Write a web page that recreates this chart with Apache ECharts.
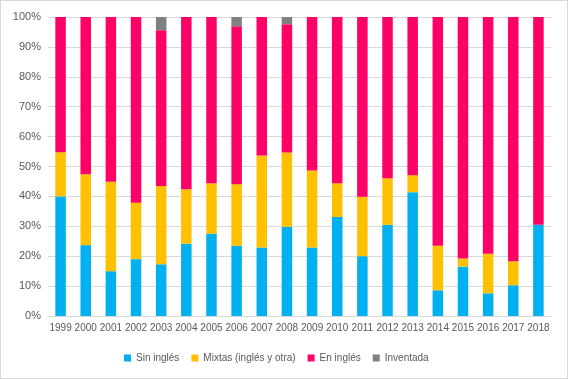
<!DOCTYPE html>
<html><head><meta charset="utf-8">
<script src="https://cdn.jsdelivr.net/npm/echarts@6/dist/echarts.min.js"></script>
<style>html,body{margin:0;padding:0;background:#fff}#c{width:568px;height:379px;box-sizing:border-box;border:1px solid #d9d9d9}</style>
</head><body><div id="c"></div>
<script>
const years = ['1999','2000','2001','2002','2003','2004','2005','2006','2007','2008','2009','2010','2011','2012','2013','2014','2015','2016','2017','2018'];
const sinIngles = [40,23.7,15,19,17.3,24.2,27.5,23.5,22.9,29.8,22.9,33.1,20,30.5,41.4,8.6,16.5,7.6,10.3,30.5];
const mixtas = [14.8,23.7,29.9,18.9,26.2,18.2,16.9,20.6,30.8,24.9,25.8,11.3,19.9,15.6,5.7,14.9,2.7,13.2,8,0];
const enIngles = [45.2,52.6,55.1,62.1,52.1,57.6,55.6,52.8,46.3,42.9,51.3,55.6,60.1,53.9,52.9,76.5,80.8,79.2,81.7,69.5];
const inventada = [0,0,0,0,4.4,0,0,3.1,0,2.4,0,0,0,0,0,0,0,0,0,0];
const names = ['Sin inglés','Mixtas (inglés y otra)','En inglés','Inventada'];
const colors = ['#00B0F0','#FFC000','#FF0066','#808080'];
const font = 'Liberation Sans';
const chart = echarts.init(document.getElementById('c'));
const mk = (n,d,c)=>({name:n,type:'bar',stack:'a',data:d,barWidth:10.5,itemStyle:{color:c}});
chart.setOption({
  animation:false,
  color:colors,
  grid:{left:47,right:16,top:16,bottom:62,containLabel:false},
  legend:{bottom:10,left:118,itemWidth:7,itemHeight:7,itemGap:12,icon:'rect',
    textStyle:{color:'#595959',fontSize:10,fontFamily:font},data:names},
  xAxis:{type:'category',data:years,axisTick:{show:false},
    axisLine:{lineStyle:{color:'#d9d9d9'}},
    axisLabel:{interval:0,color:'#595959',fontSize:10,fontFamily:font,margin:7}},
  yAxis:{type:'value',min:0,max:100,interval:10,
    axisLabel:{formatter:'{value}%',color:'#595959',fontSize:11,fontFamily:font,margin:7},
    splitLine:{lineStyle:{color:'#d9d9d9'}},axisLine:{show:false},axisTick:{show:false}},
  series:[mk(names[0],sinIngles,colors[0]),mk(names[1],mixtas,colors[1]),mk(names[2],enIngles,colors[2]),mk(names[3],inventada,colors[3])]
});
</script></body></html>
